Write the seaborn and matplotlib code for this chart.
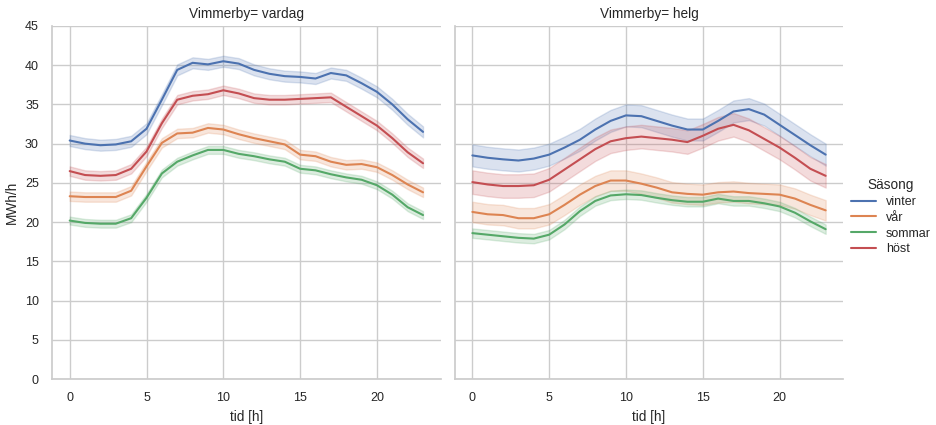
import pandas as pd
import matplotlib
matplotlib.use("Agg")
import matplotlib.pyplot as plt
import seaborn as sns

# hourly mean load (MWh/h)
hours = list(range(24))
seasons = ["vinter", "vår", "sommar", "höst"]
daytypes = ["vardag", "helg"]

vardag_vinter = [30.4, 30.0, 29.8, 29.9, 30.3, 31.9, 35.6, 39.4, 40.3, 40.1, 40.5, 40.2,
                 39.4, 38.9, 38.6, 38.5, 38.3, 39.0, 38.7, 37.7, 36.6, 35.0, 33.1, 31.5]
vardag_var = [23.3, 23.2, 23.2, 23.2, 24.0, 27.1, 30.1, 31.3, 31.4, 32.0, 31.8, 31.2,
              30.7, 30.3, 29.9, 28.6, 28.4, 27.7, 27.3, 27.4, 27.0, 26.0, 24.8, 23.8]
vardag_sommar = [20.2, 19.9, 19.8, 19.8, 20.5, 23.1, 26.2, 27.7, 28.5, 29.2, 29.2, 28.7,
                 28.4, 28.0, 27.7, 26.8, 26.6, 26.1, 25.7, 25.4, 24.7, 23.5, 21.9, 20.9]
vardag_host = [26.5, 26.0, 25.9, 26.0, 26.8, 29.0, 32.6, 35.6, 36.1, 36.3, 36.8, 36.4,
               35.8, 35.6, 35.6, 35.7, 35.8, 35.9, 34.7, 33.5, 32.3, 30.7, 28.9, 27.5]

helg_vinter = [28.5, 28.2, 28.0, 27.85, 28.1, 28.6, 29.5, 30.5, 31.8, 32.9, 33.6, 33.5,
               32.9, 32.3, 31.8, 31.8, 32.9, 34.1, 34.4, 33.7, 32.4, 31.1, 29.8, 28.6]
helg_var = [21.3, 21.0, 20.9, 20.5, 20.5, 21.0, 22.2, 23.5, 24.6, 25.3, 25.3, 24.9,
            24.4, 23.8, 23.6, 23.5, 23.8, 23.9, 23.7, 23.6, 23.5, 23.0, 22.2, 21.5]
helg_sommar = [18.6, 18.4, 18.2, 18.0, 17.9, 18.4, 19.7, 21.4, 22.7, 23.4, 23.55, 23.45,
               23.1, 22.8, 22.6, 22.6, 23.0, 22.7, 22.7, 22.4, 22.0, 21.2, 20.1, 19.1]
helg_host = [25.1, 24.8, 24.6, 24.6, 24.7, 25.4, 26.7, 28.0, 29.3, 30.3, 30.7, 30.9,
             30.7, 30.5, 30.2, 31.0, 31.9, 32.4, 31.7, 30.6, 29.5, 28.2, 26.8, 25.9]

# approximate half width of the shaded band
vardag_spread = [0.7, 0.6, 0.5, 0.6]
helg_spread = [1.4, 1.3, 0.6, 1.5]

means = {
    "vardag": [vardag_vinter, vardag_var, vardag_sommar, vardag_host],
    "helg": [helg_vinter, helg_var, helg_sommar, helg_host],
}
spreads = {"vardag": vardag_spread, "helg": helg_spread}

# two observations per hour (mean -/+ spread) so the band spans the spread
rows = []
for day in daytypes:
    for season, series, h in zip(seasons, means[day], spreads[day]):
        for t, m in zip(hours, series):
            rows.append((t, day, season, m - h))
            rows.append((t, day, season, m + h))
df = pd.DataFrame(rows, columns=["tid [h]", "Vimmerby", "Säsong", "MWh/h"])

sns.set_theme(style="whitegrid", font_scale=0.82)
plt.rcParams["font.family"] = ["Liberation Sans", "DejaVu Sans"]

g = sns.relplot(
    data=df, x="tid [h]", y="MWh/h", hue="Säsong", col="Vimmerby",
    kind="line", hue_order=seasons, col_order=daytypes,
    errorbar=("pi", 100), height=4, aspect=1,
)
g.set_titles(col_template="{col_var}= {col_name}")
g.set(ylim=(0, 45), yticks=range(0, 46, 5), xticks=[0, 5, 10, 15, 20])

fig = g.figure
fig.set_size_inches(9.36, 4.25)
fig.subplots_adjust(left=0.0556, right=0.901, bottom=0.108, top=0.939, wspace=0.036)
sns.move_legend(g, "center left", bbox_to_anchor=(0.897, 0.49), frameon=False,
                handlelength=2.0, handletextpad=0.8, labelspacing=0.3)

fig.savefig("out.png", dpi=100)
